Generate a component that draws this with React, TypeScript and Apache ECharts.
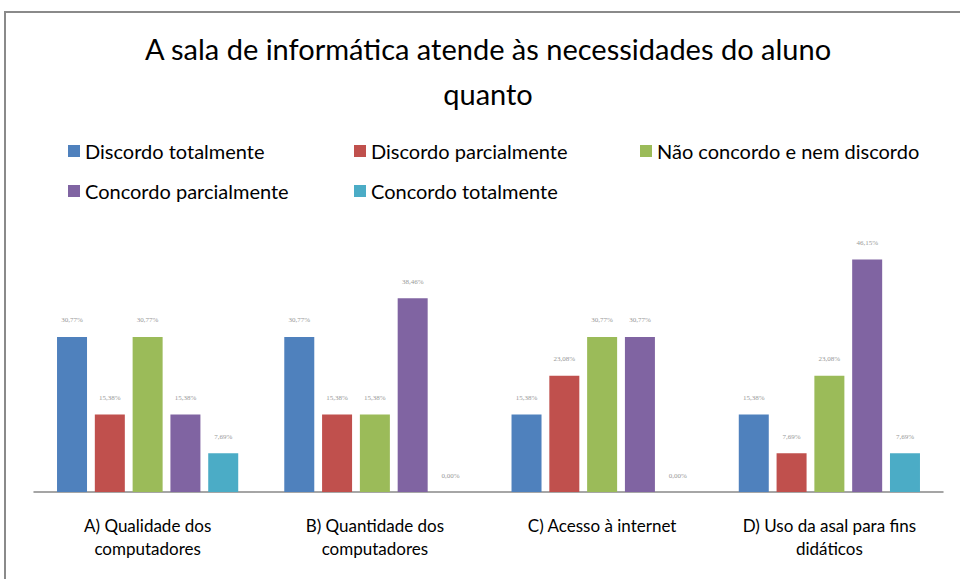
import React, { useEffect, useRef } from "react";
import * as echarts from "echarts";

const categories = [
  "A) Qualidade dos\ncomputadores",
  "B) Quantidade dos\ncomputadores",
  "C) Acesso à internet",
  "D) Uso da asal para fins\ndidáticos",
];
const seriesNames = [
  "Discordo totalmente",
  "Discordo parcialmente",
  "Não concordo e nem discordo",
  "Concordo parcialmente",
  "Concordo totalmente",
];
const discordoTotalmente = [30.77, 30.77, 15.38, 15.38];
const discordoParcialmente = [15.38, 15.38, 23.08, 7.69];
const naoConcordo = [30.77, 15.38, 30.77, 23.08];
const concordoParcialmente = [15.38, 38.46, 30.77, 46.15];
const concordoTotalmente = [7.69, 0, 0, 7.69];
const seriesValues = [
  discordoTotalmente,
  discordoParcialmente,
  naoConcordo,
  concordoParcialmente,
  concordoTotalmente,
];
const colors = ["#4F81BD", "#C0504D", "#9BBB59", "#8064A2", "#4BACC6"];
const legendPos = [
  { left: 68, top: 141 },
  { left: 354, top: 141 },
  { left: 640, top: 141 },
  { left: 68, top: 181 },
  { left: 354, top: 181 },
];

export default function App() {
  const ref = useRef<HTMLDivElement>(null);
  useEffect(() => {
    const chart = echarts.init(ref.current!, null, { renderer: "svg" });
    chart.setOption({
      animation: false,
      backgroundColor: "#fff",
      color: colors,
      title: {
        text: "A sala de informática atende às necessidades do aluno\nquanto",
        left: 483,
        textAlign: "center",
        top: 21,
        textStyle: {
          fontFamily: "Lato",
          fontSize: 29,
          fontWeight: "normal",
          color: "#000",
          lineHeight: 45,
        },
      },
      legend: seriesNames.map((n, i) => ({
        data: [n],
        left: legendPos[i].left,
        top: legendPos[i].top,
        padding: 0,
        itemWidth: 12,
        itemHeight: 12,
        itemGap: 6,
        icon: "rect",
        textStyle: { fontFamily: "Lato", fontSize: 20, color: "#000" },
      })),
      grid: { left: 34, right: 17, top: 240, bottom: 87 },
      xAxis: {
        type: "category",
        data: categories,
        axisLine: { lineStyle: { color: "#888", width: 1.5 } },
        axisTick: { show: false },
        axisLabel: {
          fontFamily: "Lato",
          fontSize: 17,
          color: "#000",
          lineHeight: 23,
          margin: 22,
          interval: 0,
        },
      },
      yAxis: {
        type: "value",
        min: 0,
        max: 50,
        show: false,
        splitLine: { show: false },
      },
      series: seriesNames.map((n, i) => ({
        name: n,
        type: "bar",
        data: seriesValues[i],
        barWidth: 30,
        barGap: "26%",
        itemStyle: { color: colors[i] },
        label: {
          show: true,
          position: "top",
          distance: 13,
          fontFamily: "Liberation Serif",
          fontSize: 7,
          color: "#999",
          formatter: (p: any) => p.value.toFixed(2).replace(".", ",") + "%",
        },
      })),
      graphic: [
        {
          type: "rect",
          shape: { x: 5, y: 12, width: 1000, height: 1000 },
          style: { fill: "none", stroke: "#8a8a8a", lineWidth: 2 },
          silent: true,
        },
      ],
    });
    return () => chart.dispose();
  }, []);
  return (
    <div
      ref={ref}
      style={{ position: "absolute", left: 0, top: 0, width: 960, height: 579 }}
    />
  );
}
